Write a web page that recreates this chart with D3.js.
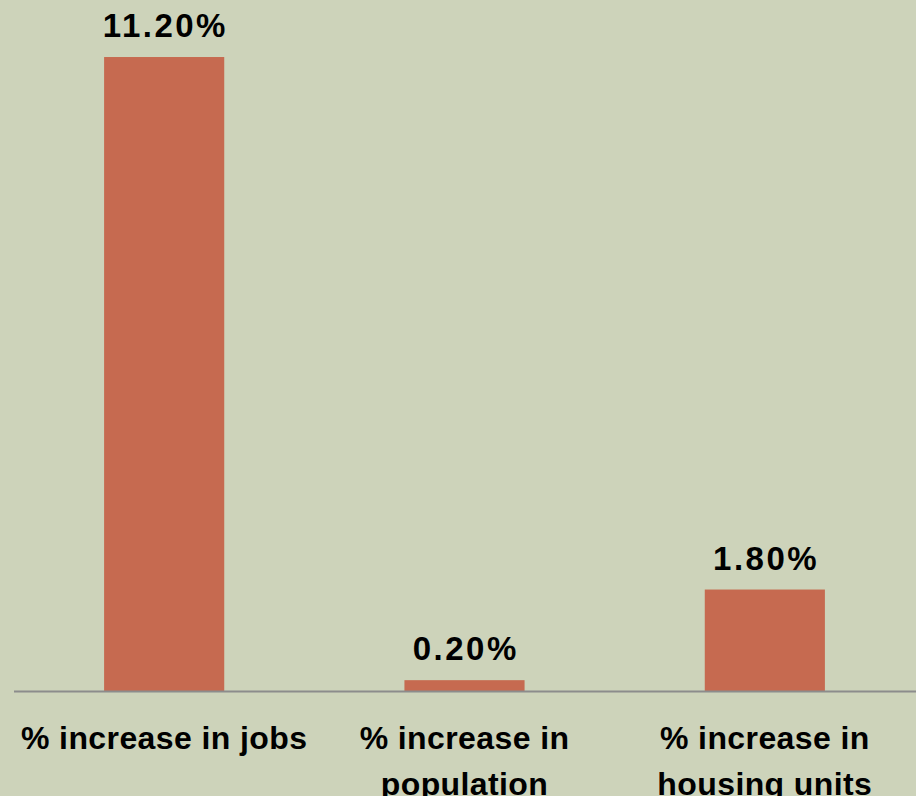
<!DOCTYPE html>
<html>
<head>
<meta charset="utf-8">
<script src="https://cdnjs.cloudflare.com/ajax/libs/d3/7.8.5/d3.min.js"></script>
<style>
	html, body { margin: 0; padding: 0; background: #cdd3ba; }
	svg { display: block; }
	.value-label, .category-label { font-family: "Liberation Sans", Arial, sans-serif; font-weight: bold; fill: #000; }
	.value-label { letter-spacing: 2.5px; }
	.category-label { letter-spacing: 0.4px; }
</style>
</head>
<body>
<div id="chart"></div>
<script>
;( function() {

	"use strict";

	//data
	var categories = [ "% increase in jobs", "% increase in population", "% increase in housing units" ],
		categoryLines = [ [ "% increase in jobs" ], [ "% increase in", "population" ], [ "% increase in", "housing units" ] ],
		values = [ 11.2, 0.2, 1.8 ],
		valueLabels = [ "11.20%", "0.20%", "1.80%" ];

	var width = 916,
		height = 796,
		axisLeft = 14,
		axisRight = 915,
		baseline = 691.5,
		valueFontSize = 33,
		catFontSize = 32,
		lineHeight = 46,
		barColor = "#c66a50",
		bgColor = "#cdd3ba";

	var svg = d3.select( "#chart" ).append( "svg" )
		.attr( "width", width )
		.attr( "height", height );

	svg.append( "rect" )
		.attr( "width", width )
		.attr( "height", height )
		.style( "fill", bgColor );

	var x = d3.scaleBand()
		.domain( categories )
		.range( [ axisLeft, axisRight ] )
		.paddingInner( 0.6 )
		.paddingOuter( 0.3 );

	var y = d3.scaleLinear()
		.domain( [ 0, 12 ] )
		.range( [ baseline, 11.7 ] );

	//bars
	svg.selectAll( ".bar" ).data( values )
		.enter()
		.append( "rect" )
			.attr( "class", "bar" )
			.attr( "x", function( d, i ) { return x( categories[ i ] ); } )
			.attr( "y", function( d ) { return y( d ); } )
			.attr( "width", x.bandwidth() )
			.attr( "height", function( d ) { return y( 0 ) - y( d ); } )
			.style( "fill", barColor );

	//category axis line
	svg.append( "line" )
		.attr( "x1", axisLeft ).attr( "x2", axisRight + 1 )
		.attr( "y1", y( 0 ) ).attr( "y2", y( 0 ) )
		.style( "stroke", "#8c8c8c" )
		.style( "stroke-width", 2 );

	//value labels above bars (dx makes up for the trailing letter-spacing)
	svg.selectAll( ".value-label" ).data( values )
		.enter()
		.append( "text" )
			.attr( "class", "value-label" )
			.attr( "x", function( d, i ) { return x( categories[ i ] ) + x.bandwidth() / 2; } )
			.attr( "y", function( d ) { return y( d ) - 20; } )
			.attr( "dx", 1.25 )
			.attr( "text-anchor", "middle" )
			.style( "font-size", valueFontSize + "px" )
			.text( function( d, i ) { return valueLabels[ i ]; } );

	//category labels, wrapped like the original
	var catText = svg.selectAll( ".category-label" ).data( categories )
		.enter()
		.append( "text" )
			.attr( "class", "category-label" )
			.attr( "text-anchor", "middle" )
			.style( "font-size", catFontSize + "px" );

	catText.each( function( d, i ) {
		var cx = x( d ) + x.bandwidth() / 2;
		d3.select( this ).selectAll( "tspan" ).data( categoryLines[ i ] )
			.enter()
			.append( "tspan" )
				.attr( "x", cx )
				.attr( "y", function( l, j ) { return 749 + j * lineHeight; } )
				.text( function( l ) { return l; } );
	} );

})();
</script>
</body>
</html>
